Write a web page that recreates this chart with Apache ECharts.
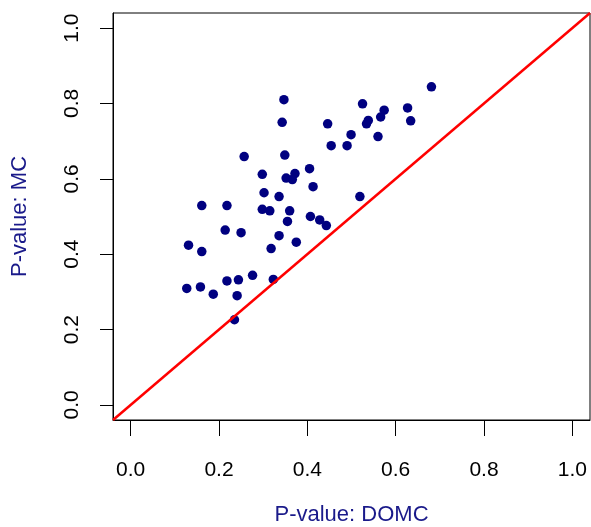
<!DOCTYPE html>
<html>
<head>
<meta charset="utf-8">
<script src="https://cdn.jsdelivr.net/npm/echarts@6/dist/echarts.min.js"></script>
<style>
  html, body { margin: 0; padding: 0; background: #fff; }
  #main { width: 591px; height: 527px; }
</style>
</head>
<body>
<div id="main"></div>
<script>
// p-values
var domcP = [0.681, 0.347, 0.525, 0.627, 0.574, 0.566, 0.343, 0.538, 0.534, 0.446,
  0.634, 0.499, 0.560, 0.454, 0.490, 0.257, 0.349, 0.405, 0.298, 0.372,
  0.352, 0.366, 0.413, 0.302, 0.336, 0.519, 0.161, 0.218, 0.298, 0.315,
  0.360, 0.355, 0.407, 0.428, 0.443, 0.214, 0.250, 0.336, 0.375, 0.131,
  0.161, 0.318, 0.127, 0.158, 0.187, 0.218, 0.244, 0.276, 0.241, 0.235,
  0.323];
var mcP = [0.844, 0.810, 0.799, 0.788, 0.782, 0.764, 0.750, 0.755, 0.746, 0.746,
  0.754, 0.717, 0.712, 0.688, 0.688, 0.659, 0.663, 0.627, 0.612, 0.614,
  0.602, 0.598, 0.579, 0.563, 0.553, 0.553, 0.529, 0.529, 0.519, 0.515,
  0.515, 0.487, 0.500, 0.491, 0.476, 0.464, 0.457, 0.449, 0.432, 0.424,
  0.407, 0.415, 0.309, 0.313, 0.294, 0.329, 0.332, 0.344, 0.290, 0.226,
  0.333];
var tickValues = [0, 0.2, 0.4, 0.6, 0.8, 1.0];
var axisMin = -0.04, axisMax = 1.04;

var points = [];
for (var i = 0; i < domcP.length; i++) {
  points.push([domcP[i], mcP[i]]);
}
// abline(0, 1)
var diag = [[axisMin, axisMin], [axisMax, axisMax]];

var font = 'Liberation Sans, Arial, sans-serif';

var chart = echarts.init(document.getElementById('main'), null, { renderer: 'canvas' });

var option = {
  animation: false,
  backgroundColor: '#ffffff',
  grid: {
    left: 113,
    right: 1,
    top: 13,
    bottom: 107,
    outerBoundsMode: 'none',
    containLabel: false,
    show: true,
    borderColor: '#000000',
    borderWidth: 1,
    backgroundColor: 'transparent'
  },
  xAxis: {
    type: 'value',
    min: axisMin,
    max: axisMax,
    name: 'P-value: DOMC',
    nameLocation: 'middle',
    nameGap: 84,
    nameMoveOverlap: false,
    nameTextStyle: { color: '#1a1a8a', fontSize: 22, fontFamily: font },
    axisLine: { show: true, onZero: false, lineStyle: { color: '#000000', width: 1 } },
    splitLine: { show: false },
    axisTick: {
      show: true,
      customValues: tickValues,
      length: 16,
      lineStyle: { color: '#000000', width: 1 }
    },
    axisLabel: {
      customValues: tickValues,
      margin: 40,
      color: '#000000',
      fontSize: 21,
      fontFamily: font,
      formatter: function (v) { return v.toFixed(1); }
    }
  },
  yAxis: {
    type: 'value',
    min: axisMin,
    max: axisMax,
    name: 'P-value: MC',
    nameLocation: 'middle',
    nameGap: 82,
    nameMoveOverlap: false,
    nameTextStyle: { color: '#1a1a8a', fontSize: 22, fontFamily: font },
    axisLine: { show: true, onZero: false, lineStyle: { color: '#000000', width: 1 } },
    splitLine: { show: false },
    axisTick: {
      show: true,
      customValues: tickValues,
      length: 13,
      lineStyle: { color: '#000000', width: 1 }
    },
    axisLabel: {
      customValues: tickValues,
      rotate: 90,
      margin: 30,
      color: '#000000',
      fontSize: 21,
      fontFamily: font,
      formatter: function (v) { return v.toFixed(1); }
    }
  },
  series: [
    {
      type: 'scatter',
      data: points,
      symbol: 'circle',
      symbolSize: 9.5,
      itemStyle: { color: '#000080', opacity: 1 },
      z: 2
    },
    {
      type: 'line',
      data: diag,
      symbol: 'none',
      clip: true,
      lineStyle: { color: '#ff0000', width: 2.5 },
      z: 3
    }
  ]
};

chart.setOption(option);
</script>
</body>
</html>
